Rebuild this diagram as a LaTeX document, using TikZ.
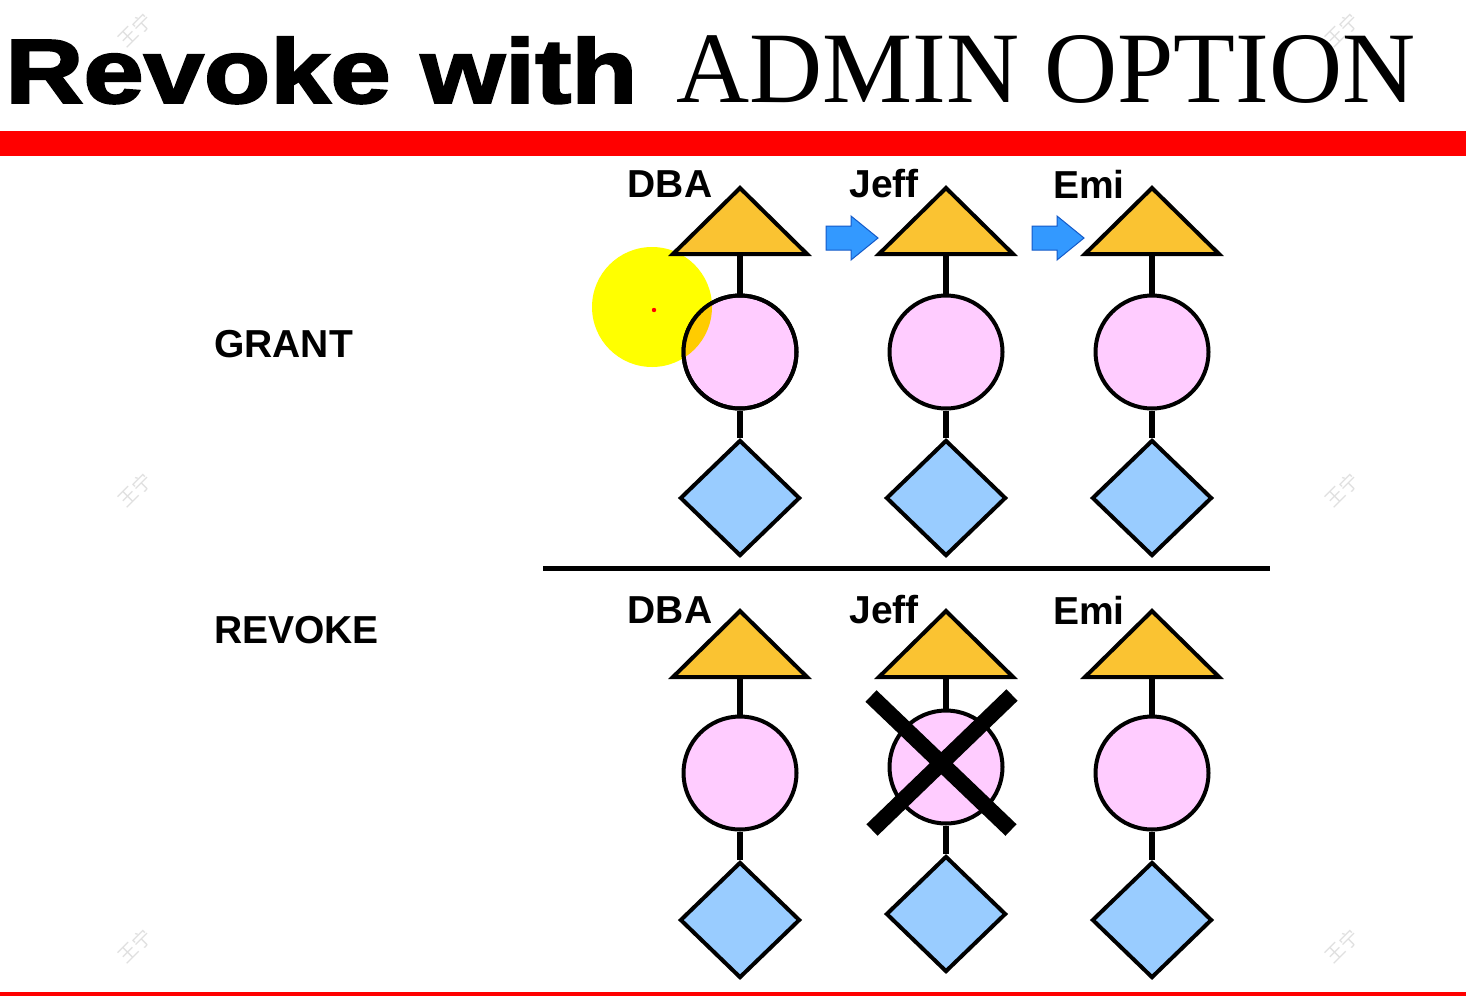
\documentclass[tikz,border=0pt]{standalone}
\usepackage{graphicx}
\usepackage{fontspec}
\setmainfont{Liberation Sans}
\newfontfamily\titleserif{Liberation Serif}
\newfontfamily\heavysans[FakeBold=2.2]{Liberation Sans Bold}
\newfontfamily\cjk{Noto Sans CJK SC}
\usetikzlibrary{shapes.geometric}

\definecolor{barred}{RGB}{255,0,0}
\definecolor{roofyellow}{RGB}{250,195,50}
\definecolor{rolepink}{RGB}{255,204,255}
\definecolor{objblue}{RGB}{153,204,255}
\definecolor{arrowblue}{RGB}{51,153,255}
\definecolor{arrowedge}{RGB}{20,90,200}
\definecolor{pointer}{RGB}{255,255,0}
\definecolor{pointerover}{RGB}{255,204,0}

% triangle "roof" with apex at (#2,#3); coordinate #1 marks the middle of its base
\newcommand\drawroof[3]{%
  \draw[roof] (#2-67,#3+66) -- (#2,#3) -- (#2+67,#3+66) -- cycle;
  \coordinate (#1) at (#2,#3+66);}
% block arrow whose tip is at (#2,#3)
\newcommand\drawpass[3]{%
  \draw[passarrow] (#2-52,#3-12) -- (#2-27,#3-12) -- (#2-27,#3-22) -- (#2,#3)
    -- (#2-27,#3+22) -- (#2-27,#3+12) -- (#2-52,#3+12) -- cycle;
  \coordinate (#1) at (#2,#3);}

\begin{document}
\begin{tikzpicture}[x=1pt,y=-1pt,
  outline/.style={draw=black, line width=4pt, line join=miter},
  rolecircle/.style={circle, outline, fill=rolepink, minimum size=113pt, inner sep=0pt},
  objdiamond/.style={diamond, outline, fill=objblue, minimum width=120pt, minimum height=116pt, inner sep=0pt},
  roof/.style={outline, fill=roofyellow},
  passarrow/.style={draw=arrowedge, line width=1pt, fill=arrowblue, line join=miter},
  stem/.style={line width=6.5pt},
  userlabel/.style={font=\fontsize{39}{44}\selectfont\bfseries, inner sep=0pt},
  rowlabel/.style={font=\fontsize{39}{44}\selectfont\bfseries, inner sep=0pt, anchor=west},
  wmark/.style={rotate=45, text=black!12, inner sep=0pt, font=\cjk\fontsize{19}{19}\selectfont},
]
\useasboundingbox (0,0) rectangle (1466,996);
\fill[white] (0,0) rectangle (1466,996);

% faint watermarks
\foreach \wx/\wy [count=\k] in {135/30, 1342/30, 135/490, 1342/490, 135/946, 1342/946}
  \node[wmark] (wm\k) at (\wx,\wy) {王宁};

% heading
\node[anchor=south west, inner sep=0pt] (head1) at (5,104)
  {\resizebox{632pt}{66pt}{\heavysans Revoke with}};
\node[anchor=south west, inner sep=0pt] (head2) at (676,104)
  {\resizebox{739pt}{67pt}{\titleserif ADMIN OPTION}};
\fill[barred] (0,131) rectangle (1466,156);
\fill[barred] (0,992) rectangle (1466,996);

% row labels
\node[rowlabel] (grant) at (214,344) {GRANT};
\node[rowlabel] (revoke) at (214,630) {REVOKE};

% pointer highlight (under the shapes)
\fill[pointer] (652,307) circle (60);

% ---------- GRANT row ----------
\node[userlabel] (gl1) at (670,184) {DBA};
\node[userlabel] (gl2) at (884,184) {Jeff};
\node[userlabel] (gl3) at (1089,184) {Emi};

\node[rolecircle] (gc1) at (740,352) {};
\node[rolecircle] (gc2) at (946,352) {};
\node[rolecircle] (gc3) at (1152,352) {};
\node[objdiamond] (gd1) at (740,498) {};
\node[objdiamond] (gd2) at (946,498) {};
\node[objdiamond] (gd3) at (1152,498) {};

\drawroof{gt1}{740}{188}
\drawroof{gt2}{946}{188}
\drawroof{gt3}{1152}{188}

\foreach \i in {1,2,3} {
  \draw[stem] (gt\i) -- (gc\i.north);
  \draw[stem] (gc\i.south) -- (gd\i.north);
}

\drawpass{ga1}{878}{238}
\drawpass{ga2}{1084}{238}

% overlap of the highlight with the DBA circle
\begin{scope}
  \clip (gc1.center) circle (56.5);
  \fill[pointerover] (652,307) circle (60);
\end{scope}
\draw[line width=4pt] (gc1.center) circle (56.5);
\fill[red] (654,310) circle (2.2);

% divider
\coordinate (divl) at (543,568);
\coordinate (divr) at (1270,568);
\draw[line width=5pt] (divl) -- (divr);

% ---------- REVOKE row ----------
\node[userlabel] (rl1) at (670,610) {DBA};
\node[userlabel] (rl2) at (884,610) {Jeff};
\node[userlabel] (rl3) at (1089,610) {Emi};

\node[rolecircle] (rc1) at (740,773) {};
\node[rolecircle] (rc2) at (946,767) {};
\node[rolecircle] (rc3) at (1152,773) {};
\node[objdiamond] (rd1) at (740,920) {};
\node[objdiamond] (rd2) at (946,914) {};
\node[objdiamond] (rd3) at (1152,920) {};

\drawroof{rt1}{740}{611}
\drawroof{rt2}{946}{611}
\drawroof{rt3}{1152}{611}

\foreach \i in {1,2,3} {
  \draw[stem] (rt\i) -- (rc\i.north);
  \draw[stem] (rc\i.south) -- (rd\i.north);
}

% cross over the revoked role
\coordinate (xc) at (941,763);
\draw[line width=16pt] ([shift={(-70,-67)}]xc) -- ([shift={(70,67)}]xc);
\draw[line width=16pt] ([shift={(71,-68)}]xc) -- ([shift={(-69,67)}]xc);
\end{tikzpicture}
\end{document}
